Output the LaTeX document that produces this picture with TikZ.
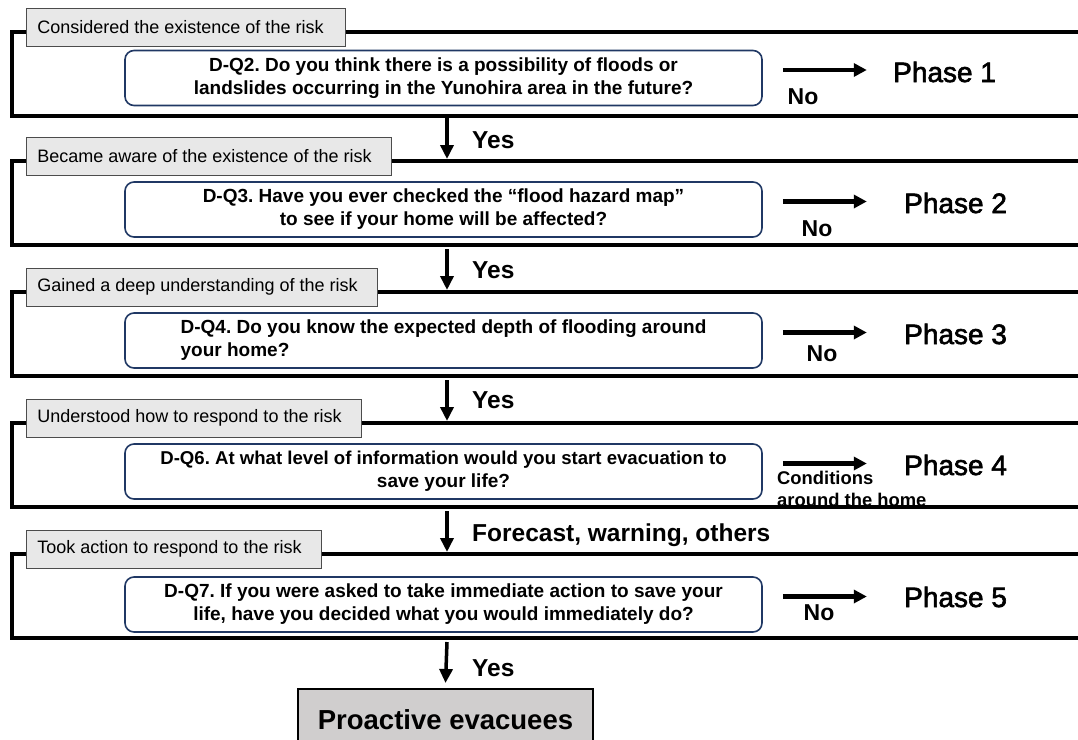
\documentclass[tikz,border=0pt]{standalone}
\usepackage{fontspec}
\setmainfont{Liberation Sans}
\newfontfamily\phasefont[FakeBold=2.2]{Liberation Sans}
\usetikzlibrary{arrows.meta}
\definecolor{navy}{RGB}{32,56,100}
\definecolor{hdrfill}{RGB}{232,232,232}
\definecolor{probfill}{RGB}{208,206,206}
\frenchspacing
\begin{document}
\begin{tikzpicture}[x=1pt,y=-1pt,
  frameline/.style={line width=4pt, line join=miter, black},
  hdr/.style={draw=black!70, line width=0.8pt, fill=hdrfill, anchor=west, minimum height=38pt, inner xsep=0pt, font=\fontsize{18}{21}\selectfont},
  qbox/.style={draw=navy, line width=1.6pt, rounded corners=9pt, minimum width=637pt, minimum height=55pt, align=center, font=\bfseries\fontsize{19}{23}\selectfont, inner sep=0pt},
  qboxl/.style={qbox, align=left},
  noarrow/.style={-{Triangle[length=13pt,width=13pt]}, line width=4.2pt},
  downarrow/.style={-{Triangle[length=14pt,width=13pt]}, line width=3.5pt},
  lbl/.style={font=\bfseries\fontsize{24.5}{28}\selectfont, anchor=west, inner sep=0pt},
  nolbl/.style={font=\bfseries\fontsize{23}{27}\selectfont, inner sep=0pt},
  condlbl/.style={font=\bfseries\fontsize{18.4}{22}\selectfont, anchor=north west, inner sep=0pt, align=left},
  phase/.style={font=\phasefont\fontsize{28}{32}\selectfont, anchor=west, inner sep=0pt},
  final/.style={draw=black, line width=1.5pt, fill=probfill, minimum width=295pt, minimum height=62pt, anchor=north, font=\bfseries\fontsize{27.5}{32}\selectfont, text depth=0pt},
]
\useasboundingbox (0,0) rectangle (1078,739);
\clip (0,0) rectangle (1078,739);

% question boxes
\node[qbox] (q1) at (443.5,78) {D-Q2. Do you think there is a possibility of floods or\\landslides occurring in the Yunohira area in the future?};
\node[qbox] (q2) at (443.5,209.5) {D-Q3. Have you ever checked the “flood hazard map”\\to see if your home will be affected?};
\node[qboxl] (q3) at (443.5,340.5) {D-Q4. Do you know the expected depth of flooding around\\your home?};
\node[qbox] (q4) at (443.5,471.5) {\fontsize{18.6}{23}\selectfont D-Q6. At what level of information would you start evacuation to\\save your life?};
\node[qbox] (q5) at (443.5,604.5) {D-Q7. If you were asked to take immediate action to save your\\life, have you decided what you would immediately do?};

% labels next to the right arrows
\node[nolbl] (no1) at (803,97) {No};
\node[nolbl] (no2) at (817,229) {No};
\node[nolbl] (no3) at (822,354) {No};
\node[condlbl] (cond) at (777,470.5) {Conditions\\around the home};
\node[nolbl] (no5) at (819,613) {No};

\node[phase] (p1) at (893,72) {Phase 1};
\node[phase] (p2) at (904,203) {Phase 2};
\node[phase] (p3) at (904,334) {Phase 3};
\node[phase] (p4) at (904,465) {Phase 4};
\node[phase] (p5) at (904,597) {Phase 5};

% right arrows
\foreach \q in {q1,q2,q3,q4,q5}{
  \draw[noarrow] ([xshift=20pt,yshift=8pt]\q.east) -- ++(84,0);
}

% frames
\foreach \t in {32,161,292,423,554}{
  \draw[frameline] (1082,\t) -- (12,\t) -- (12,\t+84) -- (1082,\t+84);
}

% headers
\node[hdr] (h1) at (26,27) {\hspace*{11pt}Considered the existence of the risk\hspace*{22pt}};
\node[hdr] (h2) at (26,156) {\hspace*{11pt}Became aware of the existence of the risk\hspace*{20pt}};
\node[hdr] (h3) at (26,287) {\hspace*{11pt}Gained a deep understanding of the risk\hspace*{20pt}};
\node[hdr] (h4) at (26,418) {\hspace*{11pt}Understood how to respond to the risk\hspace*{20pt}};
\node[hdr] (h5) at (26,549) {\hspace*{11pt}Took action to respond to the risk\hspace*{20pt}};

% down arrows
\coordinate (b1) at (447,118); \coordinate (t2) at (447,159);
\coordinate (b2) at (447,249); \coordinate (t3) at (447,290);
\coordinate (b3) at (447,380); \coordinate (t4) at (447,421);
\coordinate (b4) at (447,511); \coordinate (t5) at (447,552);
\coordinate (b5) at (447,642);
\node[final] (fin) at (445.5,688) {Proactive evacuees};
\draw[downarrow] (b1) -- (t2);
\draw[downarrow] (b2) -- (t3);
\draw[downarrow] (b3) -- (t4);
\draw[downarrow] (b4) -- (t5);
\draw[downarrow] (b5) -- ([yshift=5pt]fin.north);

\node[lbl] (y1) at (472,140) {Yes};
\node[lbl] (y2) at (472,270) {Yes};
\node[lbl] (y3) at (472,400) {Yes};
\node[lbl] (y4) at (472,535) {Forecast, warning, others};
\node[lbl] (y5) at (472,668) {Yes};
\end{tikzpicture}
\end{document}
